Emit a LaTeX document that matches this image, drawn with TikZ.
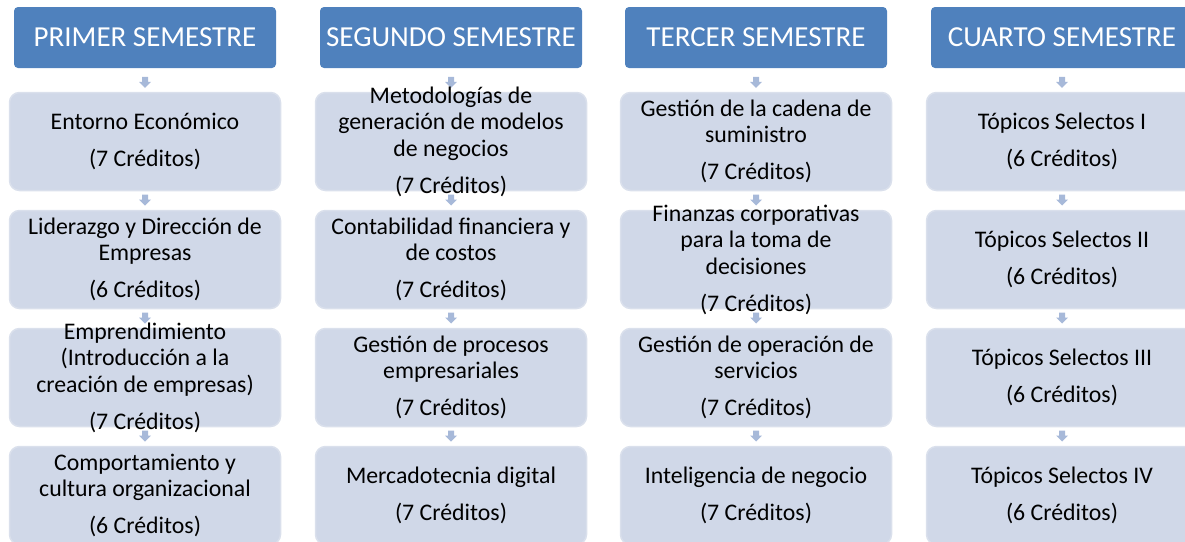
\documentclass[tikz,border=0pt]{standalone}
\usepackage{fontspec}
\setmainfont{Carlito}
\usetikzlibrary{calc}
\definecolor{hdrblue}{HTML}{4F81BD}
\definecolor{boxfill}{HTML}{D0D8E8}
\definecolor{boxedge}{HTML}{DAE0EC}
\definecolor{arrowc}{HTML}{A7B9D9}
\tikzset{
  hdr/.style={fill=hdrblue, draw=none, rounded corners=4pt, minimum width=262pt, minimum height=61pt, inner sep=0pt},
  hdrtext/.style={text=white, font=\fontsize{29}{34}\selectfont},
  coursebox/.style={fill=boxfill, draw=boxedge, line width=1.5pt, rounded corners=10pt, minimum width=271pt, minimum height=98pt, inner sep=0pt},
  coursetext/.style={align=center, inner sep=0pt, font=\fontsize{23.8}{26.5}\selectfont, text=black},
  blockarrow/.style={fill=arrowc, draw=none}
}
\newcommand\downarrowbetween[3]{%
  \path ($(#1.south)!0.5!(#2.north)+(0,#3)$) coordinate (m);
  \fill[blockarrow] ($(m)+(-3,-6)$) -- ($(m)+(3,-6)$) -- ($(m)+(3,-1)$) -- ($(m)+(6,-1)$)
     -- ($(m)+(0,5)$) -- ($(m)+(-6,-1)$) -- ($(m)+(-3,-1)$) -- cycle;}
\begin{document}
\begin{tikzpicture}[x=1pt, y=-1pt]
\useasboundingbox (0,0) rectangle (1185,541);
% column centres: 145, 451, 756, 1062 ; rows centres 141.5, 259.5, 377.5, 495.5
\foreach \c/\x in {1/145, 2/451, 3/756, 4/1062} {
  \node[hdr] (h\c) at (\x,37.5) {};
  \foreach \r/\y in {1/141.5, 2/259.5, 3/377.5, 4/495.5} {
    \node[coursebox] (b\c\r) at (\x,\y) {};
  }
}
% arrows
\foreach \c in {1,2,3,4} {
  \downarrowbetween{h\c}{b\c1}{3}
  \downarrowbetween{b\c1}{b\c2}{0}
  \downarrowbetween{b\c2}{b\c3}{0}
  \downarrowbetween{b\c3}{b\c4}{0}
}
% header texts
\node[hdrtext] at (h1) {PRIMER SEMESTRE};
\node[hdrtext] at (h2) {SEGUNDO SEMESTRE};
\node[hdrtext] at (h3) {TERCER SEMESTRE};
\node[hdrtext] at (h4) {CUARTO SEMESTRE};
% column 1
\node[coursetext] (t11) at (b11) {Entorno Económico\\[10.5pt](7 Créditos)};
\node[coursetext] (t12) at (b12) {Liderazgo y Dirección de\\Empresas\\[10.5pt](6 Créditos)};
\node[coursetext] (t13) at (b13) {Emprendimiento\\(Introducción a la\\creación de empresas)\\[10.5pt](7 Créditos)};
\node[coursetext] (t14) at (b14) {Comportamiento y\\cultura organizacional\\[10.5pt](6 Créditos)};
% column 2
\node[coursetext] (t21) at (b21) {Metodologías de\\generación de modelos\\de negocios\\[10.5pt](7 Créditos)};
\node[coursetext] (t22) at (b22) {Contabilidad financiera y\\de costos\\[10.5pt](7 Créditos)};
\node[coursetext] (t23) at (b23) {Gestión de procesos\\empresariales\\[10.5pt](7 Créditos)};
\node[coursetext] (t24) at (b24) {Mercadotecnia digital\\[10.5pt](7 Créditos)};
% column 3
\node[coursetext] (t31) at (b31) {Gestión de la cadena de\\suministro\\[10.5pt](7 Créditos)};
\node[coursetext] (t32) at (b32) {Finanzas corporativas\\para la toma de\\decisiones\\[10.5pt](7 Créditos)};
\node[coursetext] (t33) at (b33) {Gestión de operación de\\servicios\\[10.5pt](7 Créditos)};
\node[coursetext] (t34) at (b34) {Inteligencia de negocio\\[10.5pt](7 Créditos)};
% column 4
\node[coursetext] (t41) at (b41) {Tópicos Selectos I\\[10.5pt](6 Créditos)};
\node[coursetext] (t42) at (b42) {Tópicos Selectos II\\[10.5pt](6 Créditos)};
\node[coursetext] (t43) at (b43) {Tópicos Selectos III\\[10.5pt](6 Créditos)};
\node[coursetext] (t44) at (b44) {Tópicos Selectos IV\\[10.5pt](6 Créditos)};
\end{tikzpicture}
\end{document}
